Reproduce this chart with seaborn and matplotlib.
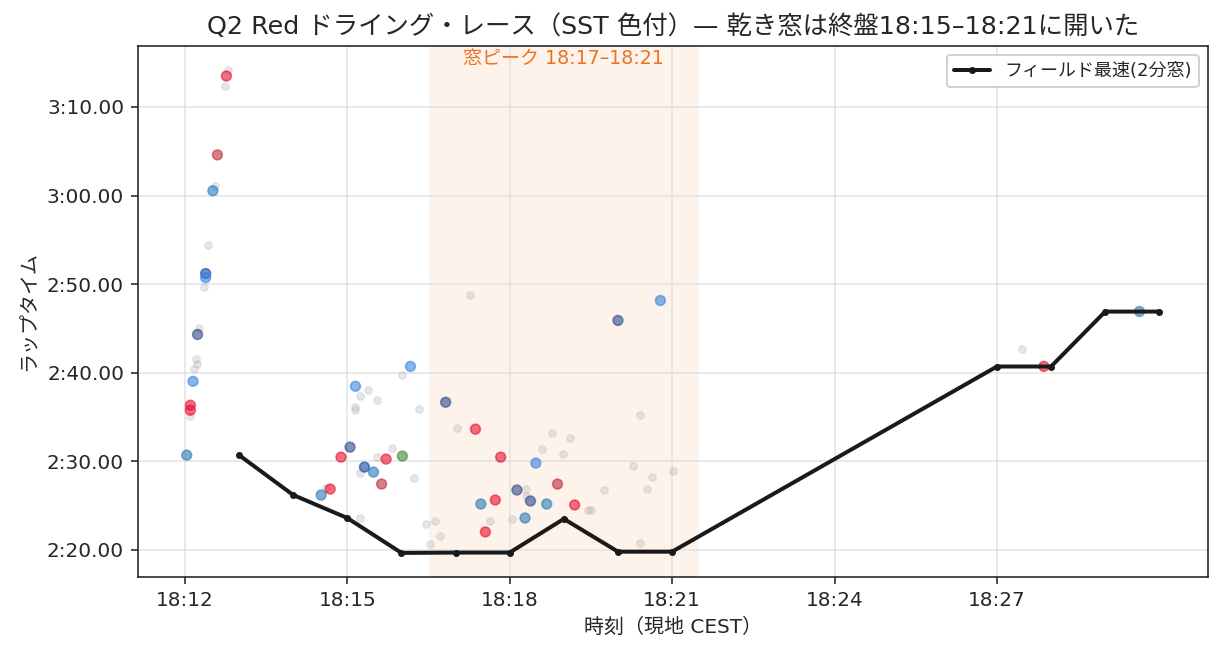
import numpy as np
import pandas as pd
import matplotlib
matplotlib.use("Agg")
import matplotlib.pyplot as plt
import matplotlib.dates as mdates
from matplotlib.ticker import FuncFormatter, MultipleLocator
import seaborn as sns

# colored laps (time of day, lap time in s, colour group)
lap_clock = ["18:12:02", "18:12:06", "18:12:06", "18:12:09", "18:12:14", "18:12:23", "18:12:23",
             "18:12:31", "18:12:36", "18:12:46",
             "18:14:31", "18:14:41", "18:14:53", "18:15:03", "18:15:09", "18:15:19", "18:15:29",
             "18:15:38", "18:15:43", "18:16:01", "18:16:10", "18:16:49", "18:17:22", "18:17:28",
             "18:17:33", "18:17:44", "18:17:50", "18:18:08", "18:18:17", "18:18:23", "18:18:29",
             "18:18:41", "18:18:53", "18:19:12", "18:20:00", "18:20:47", "18:27:52", "18:29:38"]
lap_time = [150.70, 156.33, 155.77, 159.03, 164.32, 171.19, 170.74, 180.54, 184.59, 193.49,
            146.19, 146.87, 150.47, 151.60, 158.47, 149.35, 148.78, 147.43, 150.25, 150.59,
            160.72, 156.67, 153.63, 145.18, 142.03, 145.63, 150.47, 146.76, 143.60, 145.52,
            149.80, 145.18, 147.43, 145.07, 165.90, 168.15, 160.72, 166.91]
lap_group = ["steel", "red", "red", "light", "navy", "dark", "light", "steel", "darkred", "red",
             "steel", "red", "red", "navy", "light", "dark", "steel", "darkred", "red", "green",
             "light", "navy", "red", "steel", "red", "red", "red", "navy", "steel", "navy",
             "light", "steel", "darkred", "red", "navy", "light", "red", "steel"]

# other laps shown in grey
grey_clock = ["18:12:48", "18:12:44", "18:12:33", "18:12:26", "18:12:21", "18:12:16", "18:12:12",
              "18:12:13", "18:12:10", "18:12:06",
              "18:16:01", "18:15:23", "18:15:14", "18:15:33", "18:15:09", "18:15:09", "18:16:19",
              "18:17:02", "18:15:49", "18:15:33", "18:15:14", "18:16:14", "18:14:36", "18:15:14",
              "18:16:27", "18:16:37", "18:16:43", "18:16:32", "18:17:16", "18:18:47", "18:19:07",
              "18:18:36", "18:18:59", "18:20:24", "18:20:17", "18:20:38", "18:21:01", "18:20:32",
              "18:19:44", "18:18:18", "18:18:18", "18:19:27", "18:19:30", "18:18:02", "18:17:38",
              "18:20:24", "18:27:28"]
grey_time = [194.17, 192.36, 181.10, 174.46, 169.73, 165.00, 161.51, 160.95, 160.38, 155.09,
             159.71, 158.02, 157.34, 156.89, 156.10, 155.77, 155.88, 153.74, 151.49, 150.47,
             148.67, 148.11, 146.98, 143.60, 142.93, 143.27, 141.58, 140.68, 168.72, 153.18,
             152.61, 151.37, 150.81, 155.20, 149.46, 148.22, 148.90, 146.87, 146.76, 146.87,
             146.08, 144.50, 144.50, 143.49, 143.27, 140.79, 162.64]

# field best over a 2-minute window
best_clock = ["18:13", "18:14", "18:15", "18:16", "18:17", "18:18", "18:19", "18:20", "18:21",
              "18:27", "18:28", "18:29", "18:30"]
best_time = [150.7, 146.2, 143.6, 139.66, 139.7, 139.7, 143.5, 139.8, 139.8,
             160.7, 160.7, 166.9, 166.9]

x_ticks = ["18:12", "18:15", "18:18", "18:21", "18:24", "18:27"]
peak_start, peak_end = "18:16:30", "18:21:30"

palette = {"red": "#e8102d", "darkred": "#c02a3a", "light": "#3a82e0", "steel": "#2a7ab8",
           "navy": "#2b4a8a", "dark": "#0d47a1", "green": "#3c8a30"}

day = "2025-06-28 "
laps = pd.DataFrame({"t": pd.to_datetime([day + c for c in lap_clock]),
                     "lap": lap_time, "grp": lap_group})
grey = pd.DataFrame({"t": pd.to_datetime([day + c for c in grey_clock]), "lap": grey_time})
best = pd.DataFrame({"t": pd.to_datetime([day + c for c in best_clock]), "lap": best_time})

sns.set_style("ticks")
plt.rcParams["font.family"] = ["DejaVu Sans", "Noto Sans CJK JP"]

fig, ax = plt.subplots(figsize=(1222 / 144, 655 / 144), dpi=144)
fig.subplots_adjust(left=0.113, right=0.9885, top=0.93, bottom=0.119)

ax.axvspan(pd.Timestamp(day + peak_start), pd.Timestamp(day + peak_end),
           color="#f4a061", alpha=0.12, lw=0, zorder=0)
ax.text(pd.Timestamp(day + "18:19:00"), 0.995, "窓ピーク 18:17–18:21", color="#f07022",
        fontsize=9.5, ha="center", va="top", transform=ax.get_xaxis_transform())

sns.scatterplot(data=grey, x="t", y="lap", color="#b0b0b0", alpha=0.3, s=14,
                edgecolor="#b0b0b0", linewidth=0.6, ax=ax, zorder=1)
sns.scatterplot(data=laps, x="t", y="lap", hue="grp", palette=palette, alpha=0.6, s=24,
                linewidth=0.8, legend=False, ax=ax, zorder=2)
for coll in ax.collections[-1:]:
    coll.set_edgecolor(coll.get_facecolor())
sns.lineplot(data=best, x="t", y="lap", color="#1a1a1a", lw=2, marker="o", markersize=3.5,
             markeredgewidth=0, label="フィールド最速(2分窓)", ax=ax, zorder=3)

ax.set_xticks(pd.to_datetime([day + c for c in x_ticks]))
ax.xaxis.set_major_formatter(mdates.DateFormatter("%H:%M"))
ax.yaxis.set_major_locator(MultipleLocator(10))
ax.yaxis.set_major_formatter(FuncFormatter(lambda v, p: f"{int(v // 60)}:{v % 60:05.2f}"))
ax.tick_params(labelsize=10)
ax.grid(True, color="#dddddd", lw=0.8, alpha=0.8)
for sp in ax.spines.values():
    sp.set_visible(True)
    sp.set_color("#222222")

ax.set_xlabel("時刻（現地 CEST）", fontsize=10)
ax.set_ylabel("ラップタイム", fontsize=10)
ax.set_title("Q2 Red ドライング・レース（SST 色付）— 乾き窓は終盤18:15–18:21に開いた", fontsize=12.7)
ax.legend(loc="upper right", fontsize=9, framealpha=0.9)

plt.savefig("out.png", dpi=144)
